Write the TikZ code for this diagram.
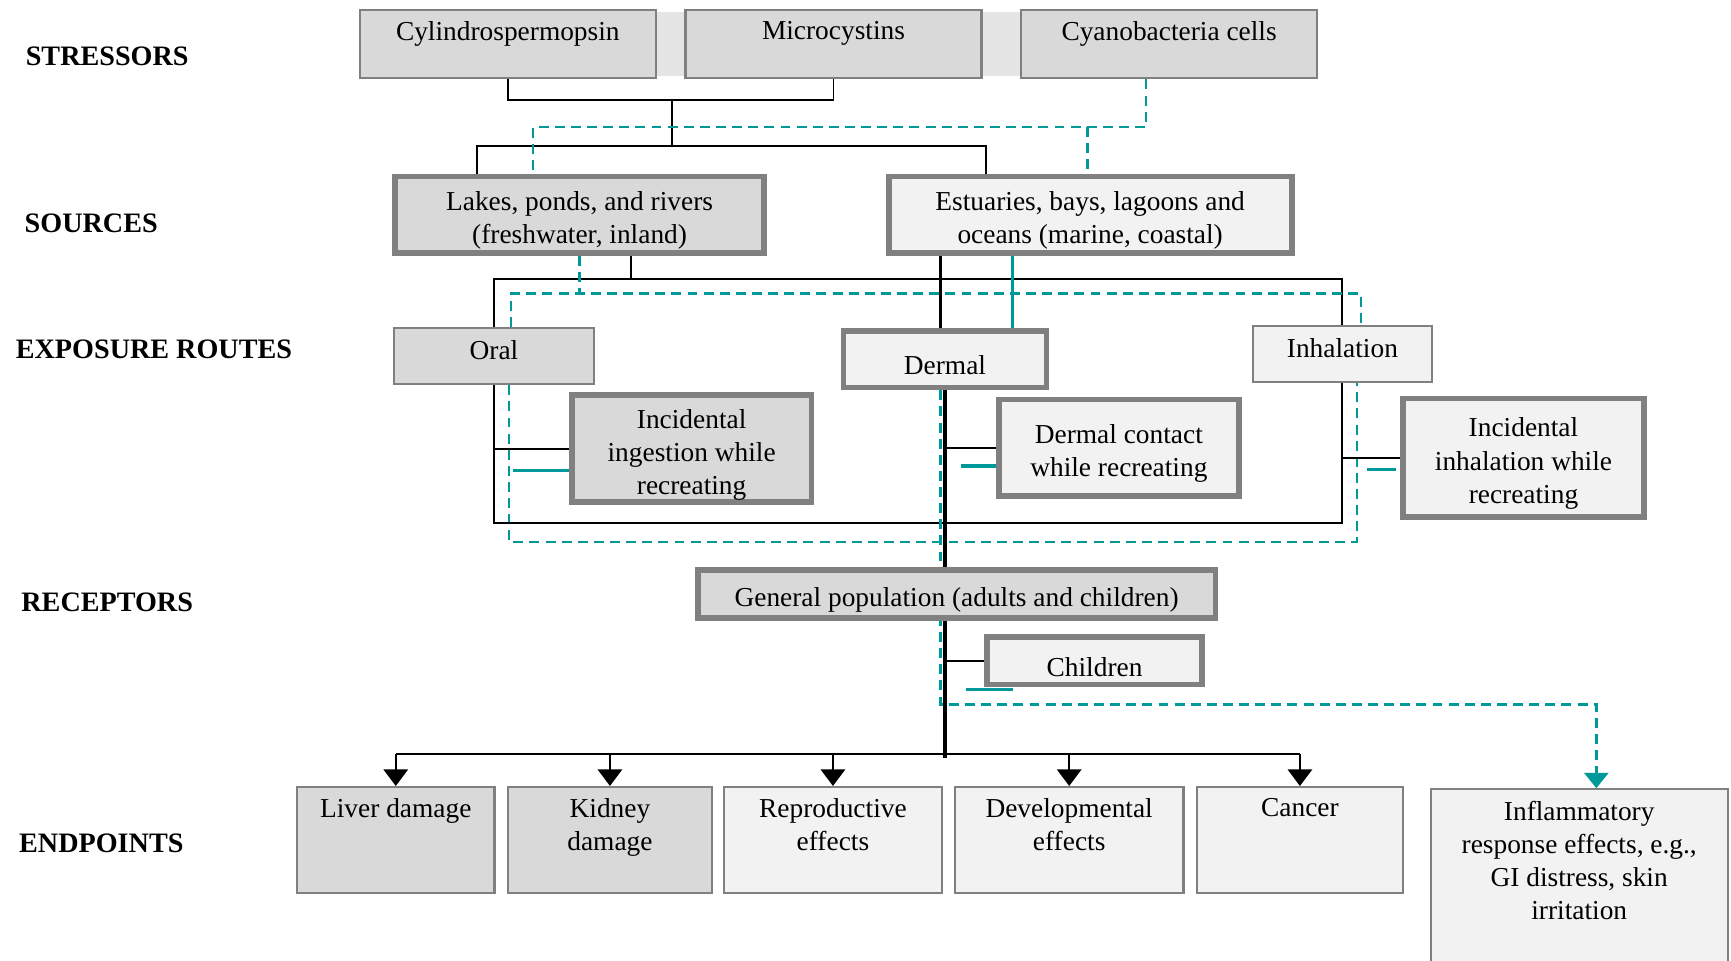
\documentclass[tikz,border=0pt]{standalone}
\usepackage{fontspec}
\setmainfont{Liberation Serif}
\usetikzlibrary{arrows.meta,fit,backgrounds}
\definecolor{boxdark}{HTML}{D9D9D9}
\definecolor{boxlight}{HTML}{F2F2F2}
\definecolor{rim}{HTML}{808080}
\definecolor{aqua}{HTML}{009999}
\begin{document}
\begin{tikzpicture}[x=0.5pt,y=-0.5pt,>={Triangle[width=11pt,length=7.5pt]},
	font=\fontsize{12.4}{15}\selectfont,
	thin box/.style={draw=rim,line width=1pt,fill=#1,inner sep=0pt},
	thick box/.style={draw=rim,line width=2.6pt,fill=#1,inner sep=0pt},
	stage/.style={anchor=west,inner sep=0pt,font=\fontsize{12.75}{15}\selectfont\bfseries},
	toptext/.style={anchor=north,align=center,inner sep=0pt,yshift=-5.6pt},
	midtext/.style={align=center,inner sep=0pt,yshift=-2.7pt},
	hightext/.style={inner sep=0pt,yshift=2.6pt},
	link/.style={line width=0.9pt},
	spine/.style={line width=1.6pt},
	aqua dash/.style={draw=aqua,line width=1.1pt,dash pattern=on 4.5pt off 2.8pt},
	aqua line/.style={draw=aqua,line width=1.5pt}]
	\useasboundingbox (0,0) rectangle (1568,870);
	\fill[gray!20] (326,11) rectangle (1193,69);
	% stressors
	\node[thin box=boxdark,fit={(326,9) (594,71)}] (cyl) {};
	\node[thin box=boxdark,fit={(621,9) (889,71)}] (micro) {};
	\node[thin box=boxdark,fit={(925,9) (1193,71)}] (cyano) {};
	% sources
	\node[thick box=boxdark,fit={(358,160) (692,229)}] (lakes) {};
	\node[thick box=boxlight,fit={(805,160) (1170,229)}] (est) {};
	% exposure routes
	\node[thin box=boxdark,fit={(357,297) (538,348)}] (oral) {};
	\node[thick box=boxlight,fit={(764,300) (948,351)}] (dermal) {};
	\node[thin box=boxlight,fit={(1135,295) (1297,346)}] (inhal) {};
	\node[thick box=boxdark,fit={(518,358) (735,455)}] (ingest) {};
	\node[thick box=boxlight,fit={(905,362) (1122,449)}] (dcont) {};
	\node[thick box=boxlight,fit={(1271,361) (1489,468)}] (iinh) {};
	% receptors
	\node[thick box=boxdark,fit={(632,516) (1101,560)}] (genpop) {};
	\node[thick box=boxlight,fit={(894,577) (1089,620)}] (child) {};
	% endpoints
	\node[thin box=boxdark,fit={(269,713) (448,809)}] (liver) {};
	\node[thin box=boxdark,fit={(460,713) (645,809)}] (kidney) {};
	\node[thin box=boxlight,fit={(656,713) (853,809)}] (repro) {};
	\node[thin box=boxlight,fit={(865,713) (1072,809)}] (devel) {};
	\node[thin box=boxlight,fit={(1084,713) (1271,809)}] (cancer) {};
	\node[thin box=boxlight,fit={(1296,715) (1565,880)}] (infl) {};
	% texts
	\foreach \b/\t in {cyl/Cylindrospermopsin,micro/Microcystins,cyano/Cyanobacteria cells,
		liver/Liver damage,kidney/Kidney\\damage,repro/Reproductive\\effects,
		devel/Developmental\\effects,cancer/Cancer}
	\node[toptext] (\b-t) at (\b.north) {\t};
	\node[toptext] (infl-t) at (infl.north) {Inflammatory\\response effects, e.g.,\\GI distress, skin\\irritation};
	\node[midtext] (lakes-t) at (lakes) {Lakes, ponds, and rivers\\(freshwater, inland)};
	\node[midtext] (est-t) at (est) {Estuaries, bays, lagoons and\\oceans (marine, coastal)};
	\node[hightext] (oral-t) at (oral) {Oral};
	\node[midtext] (dermal-t) at (dermal) {Dermal};
	\node[hightext] (inhal-t) at (inhal) {Inhalation};
	\node[midtext] (ingest-t) at (ingest) {Incidental\\ingestion while\\recreating};
	\node[midtext] (dcont-t) at (dcont) {Dermal contact\\while recreating};
	\node[midtext] (iinh-t) at (iinh) {Incidental\\inhalation while\\recreating};
	\node[midtext] (genpop-t) at (genpop) {General population (adults and children)};
	\node[midtext] (child-t) at (child) {Children};
	\foreach \x/\y/\t [count=\i] in {23/51/STRESSORS,22/202/SOURCES,14/316/EXPOSURE ROUTES,19/546/RECEPTORS,17/764/ENDPOINTS}
	\node[stage] (stage\i) at (\x,\y) {\t};
	\path
	(609,91) coordinate (sj) (609,132) coordinate (sk)
	(432,132) coordinate (sl) (893,132) coordinate (sr)
	(1038,115) coordinate (tc) (483,115) coordinate (tl) (985,115) coordinate (te)
	(572,253) coordinate (rm) (1216,253) coordinate (rr) (1216,474) coordinate (rb)
	(463,266) coordinate (dtl) (1233,266) coordinate (dtr)
	(461,491) coordinate (dbl) (1229,491) coordinate (dbr)
	(852,0) coordinate (dx) (917,0) coordinate (tx)
	(856,687) coordinate (ej) (856,683) coordinate (eh)
	(852,638) coordinate (tv) (1446,638) coordinate (ta)
	;
	\begin{scope}[on background layer]
		\draw[link] (cyl.south) |- (sj) -| (micro.south);
		\draw[link] (sj)--(sk);
		\draw[link] (lakes.north -| sl) |- (sr) -- (est.north -| sr);
		\draw[aqua dash] (cyano.south -| tc)--(tc)--(tl)--(lakes.north -| tl);
		\draw[aqua dash] (te)--(est.north -| te);
		\draw[link] (lakes.south -| rm)--(rm);
		\draw[link] (oral.north) |- (rr) -- (inhal.north);
		\draw[spine] (est.south -| dx)--(dermal.north -| dx);
		\draw[aqua line] (est.south -| tx)--(dermal.north -| tx);
		\draw[aqua dash] (lakes.south)--(lakes.south |- dtl);
		\draw[aqua dash] (oral.north -| dtl)--(dtl)--(dtr)--(inhal.north -| dtr);
		\draw[aqua dash] (oral.south -| dbl)--(dbl)--(dbr)--(inhal.south -| dbr);
		\draw[link] (oral.south) |- (rb) -- (inhal.south);
		\foreach \a/\b in {ingest/oral,dcont/dermal,iinh/inhal,child/dermal}
		\draw[link] (\a.west)--(\a.west -| \b.south);
		\draw[spine] (dermal.south)--(ej);
		\draw[aqua dash,-{Triangle[width=11pt,length=7pt]}] (dermal.south -| tv)--(tv)--(ta)--(infl.north -| ta);
		\draw[link] (liver.north |- eh)--(cancer.north |- eh);
		\foreach \b in {liver,kidney,repro,devel,cancer}
		\draw[link,->] (\b.north |- eh)--(\b.north);
	\end{scope}
	\draw[aqua line] (ingest.west) ++(0,20) -- ++(-51,0);
	\draw[aqua line] (dcont.west) ++(0,16.5) -- ++(-32,0);
	\draw[aqua line] (iinh.west) ++(-4,10.5) -- ++(-26,0);
	\draw[aqua line] (child.south west) ++(-16,2) -- ++(42,0);
\end{tikzpicture}
\end{document}
